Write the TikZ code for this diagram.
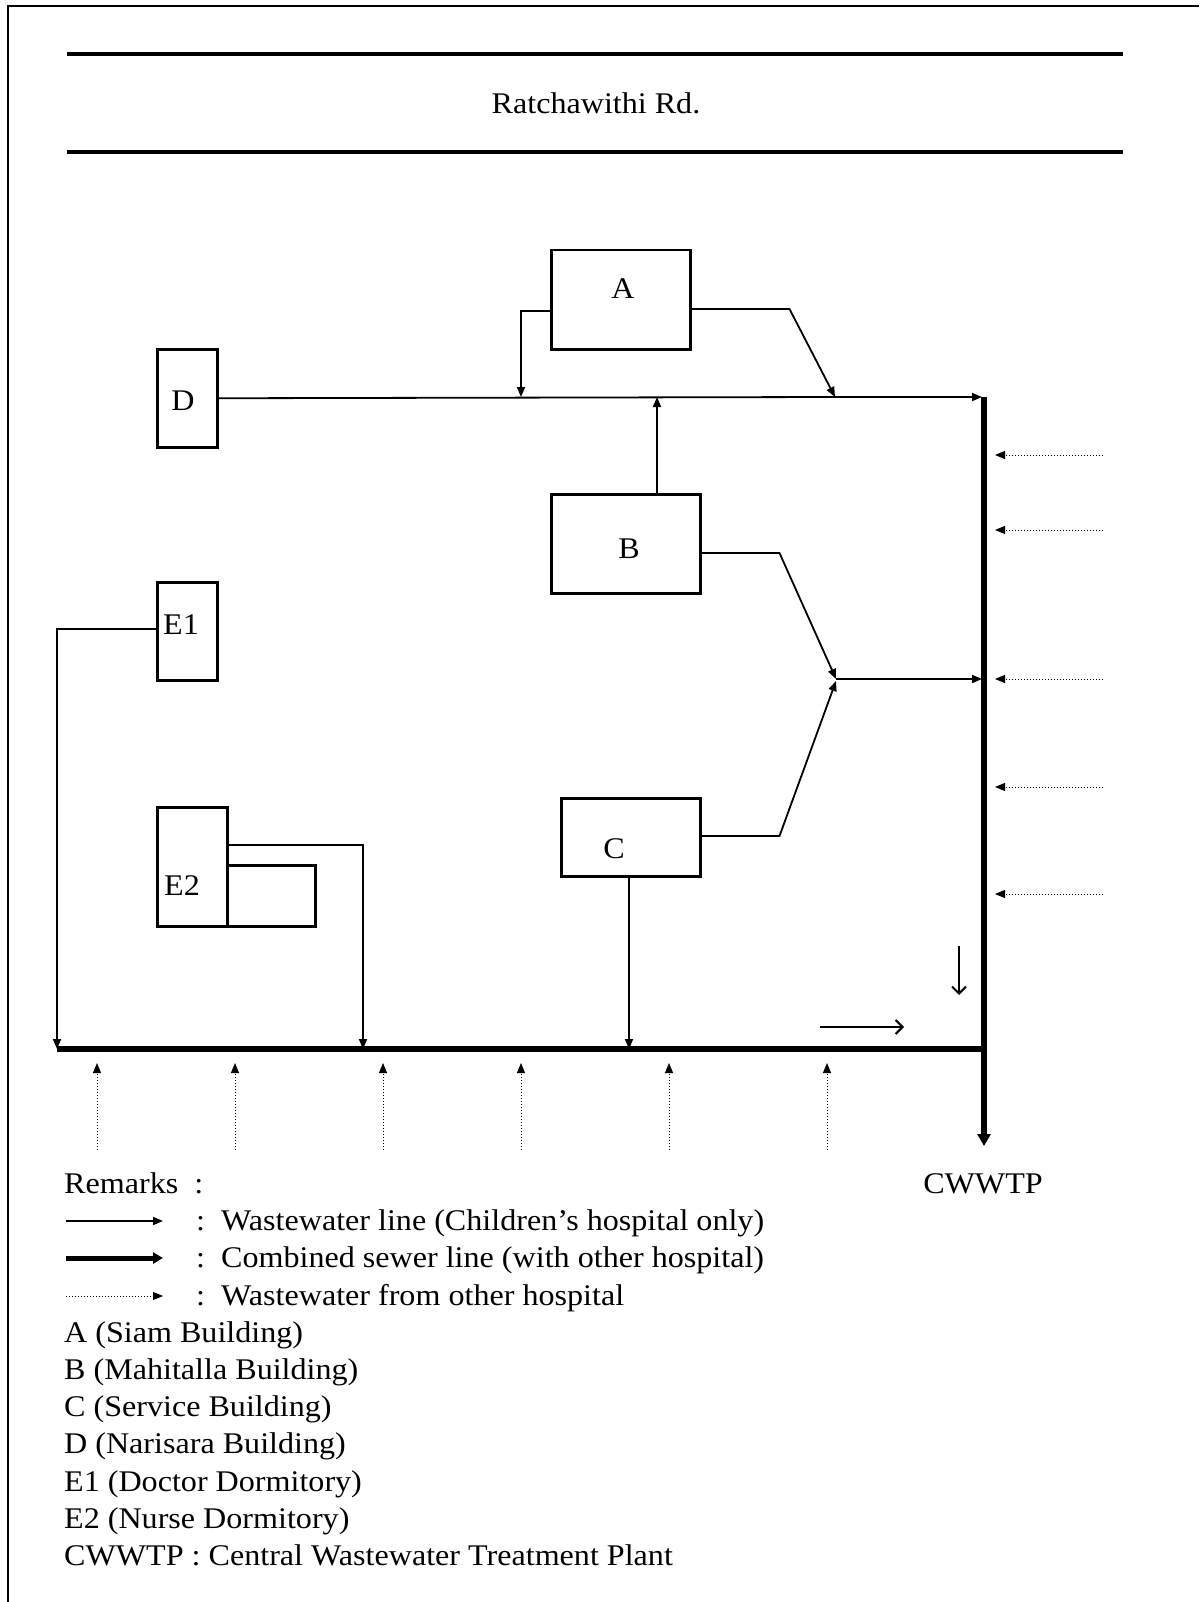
\documentclass[tikz,border=0pt]{standalone}
\usepackage{fontspec}
\setmainfont[FakeStretch=1.07]{Liberation Serif}
\usetikzlibrary{arrows.meta,calc}
\begin{document}
\begin{tikzpicture}[x=1pt,y=-1pt,
  every node/.style={font=\fontsize{30}{36}\selectfont},
  box/.style={draw,line width=2.5pt,inner sep=0pt,anchor=north west},
  wline/.style={line width=1.8pt,-{Triangle[length=10pt,width=8pt]}},
  plain/.style={line width=1.8pt},
  thickline/.style={line width=5.5pt},
  dline/.style={line width=1pt,dotted,-{Triangle[length=10pt,width=8pt]}},
  flow/.style={line width=2pt,-{Straight Barb[length=7pt,width=14pt]}},
  lbl/.style={anchor=base,inner sep=0pt},
  ltxt/.style={anchor=base west,inner sep=0pt}]
\useasboundingbox (0,0) rectangle (1199,1602);
% frame
\draw[line width=2pt] (8,1602) -- (8,6) -- (1199,6);
% road
\draw[line width=4.5pt] (67,54) -- (1123,54);
\draw[line width=4.5pt] (67,152) -- (1123,152);
\node[lbl] (road) at (596,114) {Ratchawithi Rd.};
% buildings
\node[box,minimum width=139pt,minimum height=99pt] (A) at (550,249) {};
\node[box,minimum width=60pt,minimum height=98pt] (D) at (156,348) {};
\node[box,minimum width=149pt,minimum height=99pt] (B) at (550,493) {};
\node[box,minimum width=139pt,minimum height=78pt] (C) at (560,797) {};
\node[box,minimum width=60pt,minimum height=98pt] (E1) at (156,581) {};
\node[box,minimum width=70pt,minimum height=119pt] (E2) at (156,806) {};
\node[box,minimum width=88pt,minimum height=61pt] (E2b) at (226,864) {};
\node[lbl] (Al) at (623,299) {A};
\node[lbl] (Dl) at (183,410) {D};
\node[lbl] (Bl) at (629,558) {B};
\node[lbl] (Cl) at (614,858) {C};
\node[lbl] (E1l) at (181,634) {E1};
\node[lbl] (E2l) at (182,895) {E2};
% coordinates
\coordinate (J1) at (984,397);
\coordinate (J2) at (984,1049);
\coordinate (W) at (57,1049);
\coordinate (Out) at (984,1146);
\coordinate (M) at (836,679);
\coordinate (A1) at (521,397);
\coordinate (A2) at (835,397);
\coordinate (B1) at (657,397);
\coordinate (C2) at (629,1049);
\coordinate (E2d) at (363,1049);
% combined sewer
\draw[thickline] (W) -- (J2);
\draw[thickline,-{Triangle[length=12pt,width=13pt]}] (J1) -- (Out);
% wastewater lines
\draw[plain] (D.east) -- (A2);
\draw[wline,shorten >=2pt] (A2) -- (J1);
\draw[wline] ([yshift=-62pt]A.north west) -| (A1);
\draw[wline] ([yshift=-60pt]A.north east) -- ++(98,0) -- (A2);
\draw[wline] (B.north -| B1) -- (B1);
\draw[wline] ([yshift=-60pt]B.north east) -- ++(78,0) -- (M);
\draw[wline] ([yshift=-39pt]C.north east) -- ++(78,0) -- ([yshift=-2pt]M);
\draw[wline,shorten >=2pt] (M) -- (J1 |- M);
\draw[wline] ([yshift=-48pt]E1.north west) -| (W);
\draw[wline] ([yshift=-39pt]E2.north east) -| (E2d);
\draw[wline] (C.south -| C2) -- (C2);
% other hospital
\foreach \yy in {455,530,679,787,894} \draw[dline] (1103,\yy) -- (995,\yy);
\foreach \xx in {97,235,383,521,669,827} \draw[dline] (\xx,1150) -- (\xx,1063);
% flow direction
\draw[flow] (820,1027) -- (904,1027);
\draw[flow] (959,946) -- (959,995);
\node[lbl] (cw) at (983,1193) {CWWTP};
% legend
\node[ltxt] (rem) at (64,1193) {Remarks\ \ :};
\coordinate (L1a) at (66,1221); \coordinate (L1b) at (163,1221);
\coordinate (L2a) at (66,1258); \coordinate (L2b) at (163,1258);
\coordinate (L3a) at (66,1296); \coordinate (L3b) at (163,1296);
\draw[wline] (L1a) -- (L1b);
\draw[line width=5pt,-{Triangle[length=10pt,width=11pt]}] (L2a) -- (L2b);
\draw[dline] (L3a) -- (L3b);
\node[ltxt] (t1) at (196,1230) {:\ \ Wastewater line (Children’s hospital only)};
\node[ltxt] (t2) at (196,1267) {:\ \ Combined sewer line (with other hospital)};
\node[ltxt] (t3) at (196,1305) {:\ \ Wastewater from other hospital};
\node[ltxt] (t4) at (64,1342) {A (Siam Building)};
\node[ltxt] (t5) at (64,1379) {B (Mahitalla Building)};
\node[ltxt] (t6) at (64,1416) {C (Service Building)};
\node[ltxt] (t7) at (64,1453) {D (Narisara Building)};
\node[ltxt] (t8) at (64,1491) {E1 (Doctor Dormitory)};
\node[ltxt] (t9) at (64,1528) {E2 (Nurse Dormitory)};
\node[ltxt] (t10) at (64,1565) {CWWTP : Central Wastewater Treatment Plant};
\end{tikzpicture}
\end{document}
